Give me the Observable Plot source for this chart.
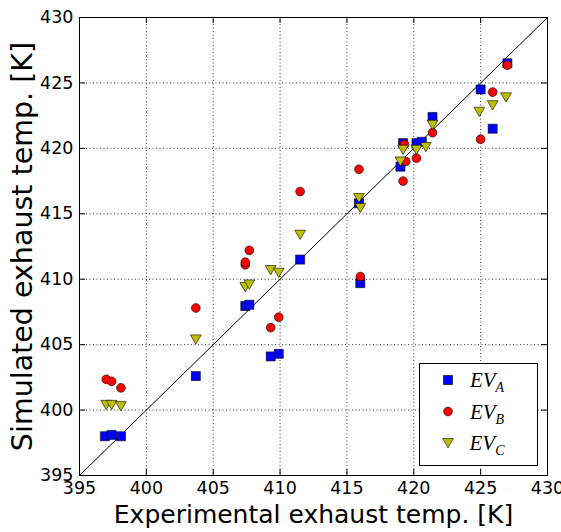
<!DOCTYPE html>
<html>
<head>
<meta charset="utf-8">
<script src="https://cdn.jsdelivr.net/npm/d3@7"></script>
<script src="https://cdn.jsdelivr.net/npm/@observablehq/plot@0.6"></script>
<style>
  body { margin: 0; background: #fff; }
  #chart svg { display: block; }
</style>
</head>
<body>
<div id="chart"></div>
<script>
// ---- data ----
const xA = [396.9, 397.4, 398.1, 403.7, 407.4, 407.7, 409.3, 409.9, 411.5, 415.9, 416.0, 419.0, 419.2, 420.2, 420.6, 421.4, 425.0, 425.9, 427.0];
const yA = [398.0, 398.1, 398.0, 402.6, 407.95, 408.05, 404.1, 404.3, 411.5, 415.8, 409.7, 418.6, 420.4, 420.4, 420.5, 422.4, 424.5, 421.5, 426.5];

const xB = [397.0, 397.4, 398.1, 403.7, 407.4, 407.4, 407.7, 409.3, 409.9, 411.5, 415.9, 416.0, 419.2, 419.3, 419.4, 420.2, 421.4, 425.0, 425.9, 427.0];
const yB = [402.35, 402.2, 401.7, 407.8, 411.1, 411.3, 412.2, 406.3, 407.1, 416.7, 418.4, 410.2, 417.5, 420.3, 419.0, 419.25, 421.2, 420.7, 424.3, 426.35];

const xC = [397.0, 397.4, 398.1, 403.7, 407.4, 407.7, 409.3, 409.9, 411.5, 415.9, 416.0, 419.0, 419.2, 420.2, 420.9, 421.4, 424.9, 425.9, 426.9];
const yC = [400.4, 400.4, 400.3, 405.4, 409.4, 409.6, 410.7, 410.5, 413.4, 416.2, 415.45, 419.0, 419.9, 419.9, 420.1, 421.8, 422.8, 423.3, 423.9];

const ticks = [395, 400, 405, 410, 415, 420, 425, 430];
const identityLine = [395, 430];
const seriesLabels = ["A", "B", "C"];
const seriesColors = ["#0000ff", "#ff0000", "#bfbf00"];
const xLabel = "Experimental exhaust temp. [K]";
const yLabel = "Simulated exhaust temp. [K]";

// ---- build rows ----
const rows = (xs, ys) => xs.map((x, i) => ({x, y: ys[i]}));
const A = rows(xA, yA), B = rows(xB, yB), C = rows(xC, yC);
const diag = identityLine.map(v => ({x: v, y: v}));

const W = 561, H = 532;
const mL = 79, mR = 14, mT = 17, mB = 57;
const innerH = H - mT - mB, innerW = W - mL - mR;
const tickLen = 6;
const gridStyle = {stroke: "black", strokeOpacity: 1, strokeWidth: 0.8, strokeDasharray: "1,2.5"};
const dotEdge = {stroke: "black", strokeWidth: 0.6};

const chart = Plot.plot({
  width: W, height: H,
  marginLeft: mL, marginRight: mR, marginTop: mT, marginBottom: mB,
  style: {fontFamily: "DejaVu Sans", background: "white", color: "black", overflow: "visible"},
  x: {domain: [395, 430]},
  y: {domain: [395, 430]},
  marks: [
    Plot.gridX(ticks, gridStyle),
    Plot.gridY(ticks, gridStyle),
    Plot.line(diag, {x: "x", y: "y", stroke: "black", strokeWidth: 1}),
    Plot.dot(A, {x: "x", y: "y", symbol: "square", r: 5.1, fill: seriesColors[0], ...dotEdge}),
    Plot.dot(B, {x: "x", y: "y", symbol: "circle", r: 4.4, fill: seriesColors[1], ...dotEdge}),
    Plot.dot(C, {x: "x", y: "y", symbol: "triangle", rotate: 180, r: 4, dy: -1.4, fill: seriesColors[2], ...dotEdge}),
    // inward ticks on all four sides
    Plot.ruleX(ticks, {x: d => d, insetTop: innerH - tickLen, stroke: "black"}),
    Plot.ruleX(ticks, {x: d => d, insetBottom: innerH - tickLen, stroke: "black"}),
    Plot.ruleY(ticks, {y: d => d, insetRight: innerW - tickLen, stroke: "black"}),
    Plot.ruleY(ticks, {y: d => d, insetLeft: innerW - tickLen, stroke: "black"}),
    Plot.axisX(ticks, {anchor: "bottom", tickSize: 0, tickPadding: 6, fontSize: 17.5, label: null}),
    Plot.axisY(ticks, {anchor: "left", tickSize: 0, tickPadding: 6, fontSize: 17.5, label: null}),
    Plot.frame({stroke: "black", strokeWidth: 1}),
    Plot.text([xLabel], {frameAnchor: "bottom", dy: 39, fontSize: 25, lineAnchor: "middle", textAnchor: "middle"}),
    Plot.text([yLabel], {frameAnchor: "left", dx: -57, rotate: -90, fontSize: 28.5, lineAnchor: "middle", textAnchor: "middle"})
  ]
});

document.getElementById("chart").appendChild(chart);

// ---- legend inside the plot area ----
const svg = d3.select(chart);
const lg = svg.append("g").attr("class", "legend");
lg.append("rect").attr("x", 419.5).attr("y", 363.5).attr("width", 118).attr("height", 102)
  .attr("fill", "white").attr("stroke", "black").attr("stroke-width", 1);
const symbols = [d3.symbolSquare, d3.symbolCircle, d3.symbolTriangle];
const sizes = [Math.PI * 5.1 * 5.1, Math.PI * 4.4 * 4.4, Math.PI * 4 * 4];
seriesLabels.forEach((s, i) => {
  const cy = 380 + i * 31.5;
  lg.append("path")
    .attr("d", d3.symbol(symbols[i], sizes[i])())
    .attr("transform", i === 2 ? `translate(448,${cy - 1.4}) rotate(180)` : `translate(448,${cy})`)
    .attr("fill", seriesColors[i]).attr("stroke", "black").attr("stroke-width", 0.6);
  const t = lg.append("text").attr("x", 487).attr("y", cy + 7)
    .attr("font-family", "Liberation Serif").attr("font-style", "italic").attr("font-size", 21)
    .attr("fill", "black");
  t.append("tspan").text("EV");
  t.append("tspan").attr("dy", 5).attr("font-size", 14).text(s);
});
</script>
</body>
</html>
